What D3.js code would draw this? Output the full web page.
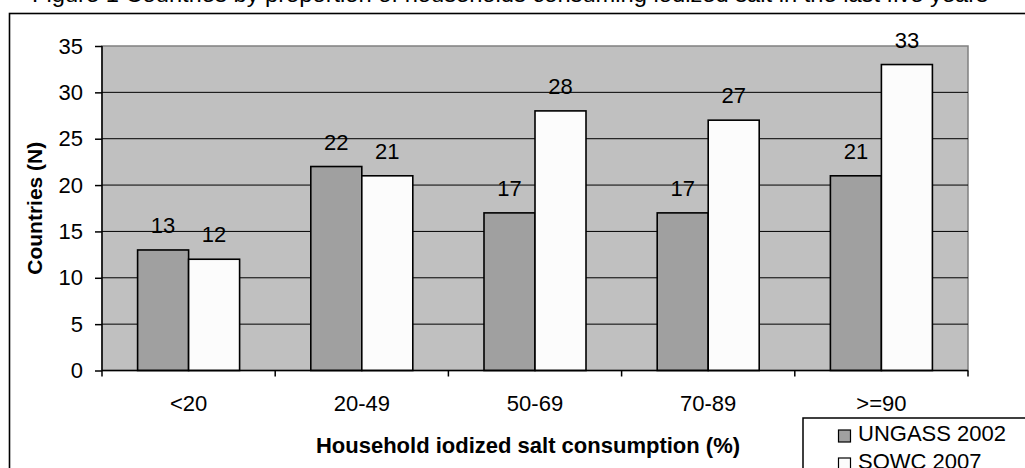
<!DOCTYPE html>
<html><head><meta charset="utf-8">
<script src="https://cdn.jsdelivr.net/npm/d3@7"></script>
<style>body{margin:0;background:#fff;overflow:hidden}svg{display:block;font-family:Arial,"Liberation Sans",sans-serif}</style>
</head><body>
<svg id="c" width="1025" height="468"></svg>
<script>
const categories = ["<20", "20-49", "50-69", "70-89", ">=90"];
const seriesNames = ["UNGASS 2002", "SOWC 2007"];
const ungass2002 = [13, 22, 17, 17, 21];
const sowc2007 = [12, 21, 28, 27, 33];
const yTicks = [0, 5, 10, 15, 20, 25, 30, 35];
const colors = ["#a0a0a0", "#fcfcfc"];
const titleText = "Figure 1 Countries by proportion of households consuming iodized salt in the last five years";
const FONT = "Arial, 'Liberation Sans', sans-serif";
const FS = 22;

const svg = d3.select("#c");
// cut-off title at the top edge
svg.append("text").attr("x", 32).attr("y", 1.5).attr("font-size", FS).attr("fill", "#000")
  .attr("textLength", 956).attr("lengthAdjust", "spacingAndGlyphs").text(titleText);
// outer frame
svg.append("rect").attr("x", 9.5).attr("y", 13.5).attr("width", 1030).attr("height", 470)
  .attr("fill", "none").attr("stroke", "#000").attr("stroke-width", 1.6);

const L = 102, R = 968, T = 46, B = 370.5;
const x = d3.scaleBand().domain(categories).range([L, R]);
const y = d3.scaleLinear().domain([0, 35]).range([B, T]);
const inner = d3.scaleBand().domain(seriesNames).range([x.bandwidth() / 2 - 51, x.bandwidth() / 2 + 51]);

// plot area
svg.append("rect").attr("x", L).attr("y", T).attr("width", R - L).attr("height", B - T)
  .attr("fill", "#c0c0c0").attr("stroke", "#808080").attr("stroke-width", 1.5);
// gridlines
svg.append("g").selectAll("line").data(yTicks.filter(d => d > 0 && d < 35)).join("line")
  .attr("x1", L).attr("x2", R).attr("y1", d => y(d)).attr("y2", d => y(d))
  .attr("stroke", "#000").attr("stroke-width", 1);

// bars
const rows = categories.map((c, i) => ({ c, vals: [ungass2002[i], sowc2007[i]] }));
const grp = svg.append("g").selectAll("g").data(rows).join("g")
  .attr("transform", d => `translate(${x(d.c)},0)`);
grp.selectAll("rect").data(d => d.vals.map((v, j) => ({ v, s: seriesNames[j], j }))).join("rect")
  .attr("x", d => inner(d.s)).attr("y", d => y(d.v)).attr("width", inner.bandwidth())
  .attr("height", d => y(0) - y(d.v)).attr("fill", d => colors[d.j])
  .attr("stroke", "#000").attr("stroke-width", 1.6);
grp.selectAll("text").data(d => d.vals.map((v, j) => ({ v, s: seriesNames[j], j }))).join("text")
  .attr("x", d => inner(d.s) + inner.bandwidth() / 2).attr("y", d => y(d.v) - 17)
  .attr("text-anchor", "middle").attr("font-size", FS).attr("fill", "#000").text(d => d.v);

// y axis
const ya = svg.append("g").attr("transform", `translate(${L},0)`)
  .call(d3.axisLeft(y).tickValues(yTicks).tickSize(7).tickPadding(12).tickFormat(d3.format("d")));
ya.select(".domain").attr("stroke", "#000").attr("stroke-width", 1.5).attr("d", `M0,${T}V${B}`);
ya.selectAll(".tick line").attr("stroke", "#000").attr("stroke-width", 1.5);
ya.selectAll("text").attr("font-size", FS).attr("fill", "#000").attr("font-family", FONT);

// x axis
const xa = svg.append("g").attr("transform", `translate(0,${B})`)
  .call(d3.axisBottom(x).tickSize(0).tickPadding(25));
xa.select(".domain").attr("stroke", "#000").attr("stroke-width", 1.5).attr("d", `M${L},0H${R}`);
xa.selectAll("text").attr("font-size", FS).attr("fill", "#000").attr("font-family", FONT);
const bounds = categories.map(d => x(d)).concat([R]);
svg.append("g").selectAll("line").data(bounds).join("line")
  .attr("x1", d => d).attr("x2", d => d).attr("y1", B).attr("y2", B + 6)
  .attr("stroke", "#000").attr("stroke-width", 1.5);

// axis titles
svg.append("text").attr("x", 528).attr("y", 453).attr("text-anchor", "middle")
  .attr("font-size", FS).attr("font-weight", "bold").attr("fill", "#000")
  .text("Household iodized salt consumption (%)");
svg.append("text").attr("transform", `translate(42,${(T + B) / 2}) rotate(-90)`).attr("text-anchor", "middle")
  .attr("font-size", 21).attr("font-weight", "bold").attr("fill", "#000").text("Countries (N)");

// legend
svg.append("rect").attr("x", 803).attr("y", 418).attr("width", 240).attr("height", 80)
  .attr("fill", "#fff").attr("stroke", "#000").attr("stroke-width", 1.5);
const leg = svg.append("g").selectAll("g").data(seriesNames).join("g")
  .attr("transform", (d, j) => `translate(838,${441 + j * 28})`);
leg.append("rect").attr("x", 0.5).attr("y", -11).attr("width", 12).attr("height", 12)
  .attr("fill", (d, j) => colors[j]).attr("stroke", "#000").attr("stroke-width", 1.2);
leg.append("text").attr("x", 20).attr("y", 0).attr("font-size", FS).attr("fill", "#000").text(d => d);
</script>
</body></html>
